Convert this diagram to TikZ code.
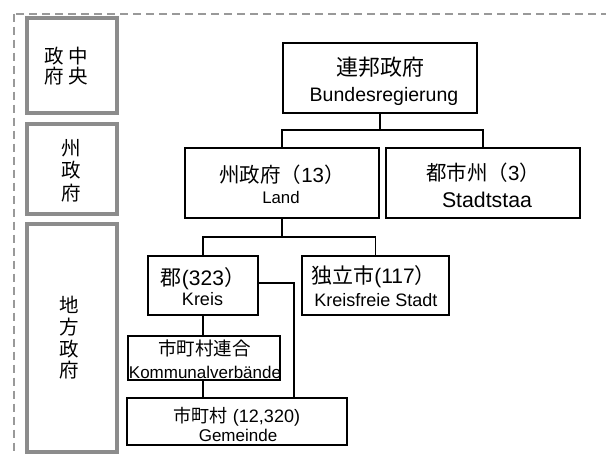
\documentclass[tikz,border=0pt]{standalone}
\usepackage{fontspec}
\setmainfont{Liberation Sans}
\newfontfamily\jp{Noto Sans CJK JP}
\newcommand\jpfs[1]{\jp\fontsize{#1}{#1}\selectfont}
\newcommand\ltfs[1]{\fontsize{#1}{#1}\selectfont}
\definecolor{framegray}{HTML}{999999}
\definecolor{sidegray}{HTML}{8C8C8C}
\begin{document}
\begin{tikzpicture}[x=1pt,y=-1pt,
  orgbox/.style={draw=black, line width=2pt, inner sep=0pt, fill=white},
  sidebox/.style={draw=sidegray, line width=3.4pt, inner sep=0pt},
  txt/.style={inner sep=0pt, anchor=base},
  vtxt/.style={inner sep=0pt, align=center},
  conn/.style={draw=black, line width=1.8pt},
  frame/.style={draw=framegray, line width=2pt, dash pattern=on 8pt off 5pt}]
\path[use as bounding box] (0,0) rectangle (606,455);
\begin{scope}
\clip (0,0) rectangle (606,455);
\draw[frame] (13.5,13.5) rectangle (650,500);
\end{scope}
% side boxes
\node[sidebox, minimum width=90pt, minimum height=95pt] (s1) at (72,65.5) {};
\node[sidebox, minimum width=90pt, minimum height=90pt] (s2) at (72,169) {};
\node[sidebox, minimum width=90pt, minimum height=228pt] (s3) at (72,338) {};
\node[vtxt, font=\jpfs{19.5}] (s1a) at (78,66.5) {中\\[0.5pt]央};
\node[vtxt, font=\jpfs{19.5}] (s1b) at (54.5,66.5) {政\\[0.5pt]府};
\node[vtxt, font=\jpfs{19.5}] (s2a) at (71,170.5) {州\\[3pt]政\\[3pt]府};
\node[vtxt, font=\jpfs{19.5}] (s3a) at (69.5,338) {地\\[2.2pt]方\\[2.2pt]政\\[2.2pt]府};
% org boxes
\node[orgbox, minimum width=194pt, minimum height=70pt] (fed) at (380,78) {};
\node[orgbox, minimum width=194pt, minimum height=70pt] (land) at (282,183) {};
\node[orgbox, minimum width=194pt, minimum height=70pt] (stadt) at (483,183) {};
\node[orgbox, minimum width=110pt, minimum height=59pt] (kreis) at (203,285.5) {};
\node[orgbox, minimum width=147pt, minimum height=59pt] (kfs) at (375.5,285.5) {};
\node[orgbox, minimum width=152pt, minimum height=44pt] (kv) at (204,358) {};
\node[orgbox, minimum width=220pt, minimum height=47pt] (gem) at (237,421.5) {};
% texts
\node[txt, font=\jpfs{22}] (fedJ) at (380,75.5) {連邦政府};
\node[txt, font=\ltfs{19.5}] (fedL) at (384,101.7) {Bundesregierung};
\node[txt, font=\ltfs{20.5}] (landJ) at (282,182) {{\jp 州政府（}13{\jp ）}};
\node[txt, font=\ltfs{16.8}] (landL) at (281,203.3) {Land};
\node[txt, font=\ltfs{20.5}] (stadtJ) at (483,180.5) {{\jp 都市州（}3{\jp ）}};
\node[txt, font=\ltfs{21.3}] (stadtL) at (487,207.7) {Stadtstaa};
\node[txt, font=\ltfs{21}] (kreisJ) at (203,285.5) {{\jp 郡}(323{\jp ）}};
\node[txt, font=\ltfs{18}] (kreisL) at (202.5,305.3) {Kreis};
\node[txt, font=\ltfs{21}] (kfsJ) at (373.5,283.8) {{\jp 独立市}(117{\jp ）}};
\node[txt, font=\ltfs{18}] (kfsL) at (376,306.3) {Kreisfreie Stadt};
\node[txt, font=\jpfs{18.5}] (kvJ) at (204.5,355.4) {市町村連合};
\node[txt, font=\ltfs{17}] (kvL) at (205,378.3) {Kommunalverbände};
\node[txt, font=\ltfs{18}] (gemJ) at (237,422) {{\jp 市町村} (12,320)};
\node[txt, font=\ltfs{17}] (gemL) at (238,441) {Gemeinde};
% connectors
\coordinate (bus1) at (0,130);
\coordinate (bus2) at (0,237);
\coordinate (kg) at (294,0);
\draw[conn] (fed.south) -- (fed.south |- bus1);
\draw[conn] (land.north) |- (stadt.north |- bus1) -- (stadt.north);
\draw[conn] (land.south) -- (land.south |- bus2);
\draw[conn] (kreis.north) |- (kfs.north |- bus2) -- (kfs.north);
\draw[conn] ([yshift=2.5pt]kreis.east) -| (kg |- gem.north);
\draw[conn] (kreis.south) -- (kreis.south |- kv.north);
\draw[conn] (kreis.south |- kv.south) -- (kreis.south |- gem.north);
\end{tikzpicture}
\end{document}
